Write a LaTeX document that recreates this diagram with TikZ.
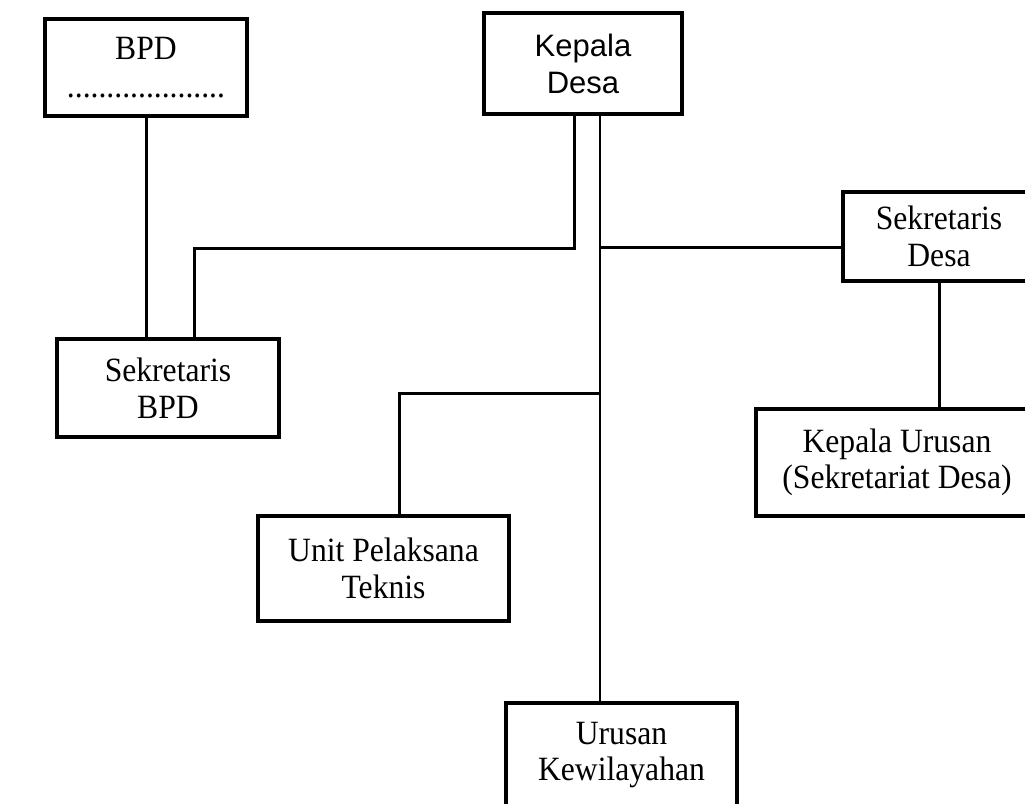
\documentclass[tikz,border=0pt]{standalone}
\usepackage{fontspec}
\setmainfont{Liberation Serif}[FakeStretch=0.93]
\newfontfamily\arialfont{Liberation Sans}
\begin{document}
\begin{tikzpicture}[x=1pt,y=-1pt,
  unit/.style={draw=black, line width=3.4pt, inner sep=0pt, align=center,
    font=\fontsize{34}{36.5}\selectfont},
  link/.style={draw=black, line width=3pt}]
\clip (0,0) rectangle (1025,803);
\fill[white] (0,0) rectangle (1025,803);

% boxes
\node[unit, minimum width=202, minimum height=97] (bpd) at (146,67.5)
  {BPD\\[1pt]....................};
\node[unit, minimum width=198, minimum height=101,
  font=\arialfont\fontsize{31}{37}\selectfont] (kd) at (583,63.5)
  {Kepala\\Desa};
\node[unit, minimum width=192, minimum height=89] (sd) at (939,236.5)
  {Sekretaris\\Desa};
\node[unit, minimum width=222, minimum height=98] (sbpd) at (168,388)
  {Sekretaris\\BPD};
\node[unit, minimum width=282, minimum height=107] (ku) at (897,462.5)
  {Kepala Urusan\\(Sekretariat Desa)};
\node[unit, minimum width=251, minimum height=105] (upt) at (383.5,568.5)
  {Unit Pelaksana\\Teknis};
\node[unit, minimum width=231, minimum height=104] (uk) at (621.5,755)
  {Urusan\\Kewilayahan};

% junctions on the main line
\coordinate (top) at ([xshift=17]kd.south);
\coordinate (jA) at (top |- 0,247);
\coordinate (jB) at (top |- 0,393);

% connectors
\draw[link] (bpd.south) -- (bpd.south |- sbpd.north);
\draw[link] ([xshift=-9]kd.south) -- ++(0,133) -| ([xshift=26]sbpd.north);
\draw[link, line width=2.6pt] (top) -- (top |- uk.north);
\draw[link] (jA) -- (sd.west |- jA);
\draw[link] (sd.south) -- (sd.south |- ku.north);
\draw[link] (jB) -| ([xshift=15.5]upt.north);
\end{tikzpicture}
\end{document}
